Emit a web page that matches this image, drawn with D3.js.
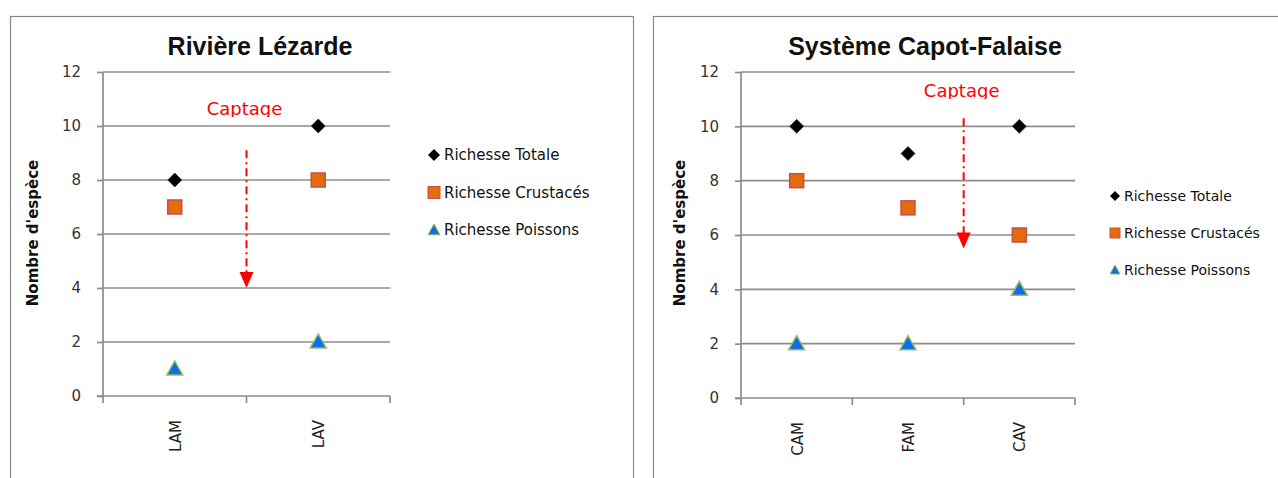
<!DOCTYPE html>
<html>
<head>
<meta charset="utf-8">
<script src="https://cdn.jsdelivr.net/npm/d3@7"></script>
<style>
  html, body { margin: 0; padding: 0; background: #fff; }
  svg { display: block; }
  text { font-family: "DejaVu Sans", Verdana, sans-serif; }
</style>
</head>
<body>
<svg id="chart" width="1278" height="478"></svg>
<script>
// Species richness per station, two river systems
const seriesNames = ["Richesse Totale", "Richesse Crustacés", "Richesse Poissons"];

const lezardeStations = ["LAM", "LAV"];
const lezardeTotale = [8, 10];
const lezardeCrustaces = [7, 8];
const lezardePoissons = [1, 2];

const capotStations = ["CAM", "FAM", "CAV"];
const capotTotale = [10, 9, 10];
const capotCrustaces = [8, 7, 6];
const capotPoissons = [2, 2, 4];

const yTicks = [0, 2, 4, 6, 8, 10, 12];
const yTitle = "Nombre d'espèce";
const annotationLabel = "Captage";

// arrow: from-to values on y, and position in band steps along the category axis
const lezardeArrow = { from: 9.1, to: 4, at: 1.0 };   // between LAM and LAV
const capotArrow = { from: 10.3, to: 5.5, at: 2.0 };  // between FAM and CAV

const svg = d3.select("#chart");
const gridColor = "#8c8c8c";

function drawPanel(cfg) {
  const g = svg.append("g");

  // outer frame
  g.append("rect")
    .attr("x", cfg.frame.x + 0.5).attr("y", cfg.frame.y + 0.5)
    .attr("width", cfg.frame.w).attr("height", cfg.frame.h)
    .attr("fill", "#fff").attr("stroke", "#8a8a8a").attr("stroke-width", 1.2);

  const x = d3.scaleBand().domain(cfg.stations).range([cfg.plot.left, cfg.plot.right]);
  const y = d3.scaleLinear().domain([0, 12]).range([cfg.plot.bottom, cfg.plot.top]);

  // gridlines
  g.append("g").selectAll("line").data(yTicks.filter(d => d > 0)).join("line")
    .attr("x1", cfg.plot.left).attr("x2", cfg.plot.right)
    .attr("y1", d => y(d)).attr("y2", d => y(d))
    .attr("stroke", gridColor).attr("stroke-width", 1.7);

  // y axis
  const yAxis = g.append("g").attr("transform", `translate(${cfg.plot.left},0)`)
    .call(d3.axisLeft(y).tickValues(yTicks).tickSize(6).tickPadding(16).tickFormat(d3.format("d")));
  yAxis.select(".domain").attr("stroke", gridColor).attr("stroke-width", 1.7)
    .attr("d", `M0,${cfg.plot.top}V${cfg.plot.bottom}`);
  yAxis.selectAll(".tick line").attr("stroke", gridColor).attr("stroke-width", 1.7);
  yAxis.selectAll(".tick text").attr("fill", "#333").style("font-size", "15px")
    .style("font-family", "'DejaVu Sans', sans-serif");

  // x axis baseline and ticks at band boundaries
  const bounds = cfg.stations.map(s => x(s)).concat([cfg.plot.right]);
  g.append("line")
    .attr("x1", cfg.plot.left - 6).attr("x2", cfg.plot.right)
    .attr("y1", y(0)).attr("y2", y(0))
    .attr("stroke", gridColor).attr("stroke-width", 1.7);
  g.append("g").selectAll("line").data(bounds).join("line")
    .attr("x1", d => d).attr("x2", d => d)
    .attr("y1", y(0)).attr("y2", y(0) + 7)
    .attr("stroke", gridColor).attr("stroke-width", 1.7);

  // category labels, rotated
  g.append("g").selectAll("text").data(cfg.stations).join("text")
    .attr("transform", d => `translate(${x(d) + x.bandwidth() / 2 + 6},${y(0) + 24}) rotate(-90)`)
    .attr("text-anchor", "end")
    .style("font-size", "15px").attr("fill", "#222")
    .text(d => d);

  // title
  g.append("text")
    .attr("x", cfg.titleX).attr("y", 55)
    .attr("text-anchor", "middle")
    .style("font-family", "'Liberation Sans', Arial, sans-serif")
    .style("font-size", "25px").style("font-weight", "bold").attr("fill", "#111")
    .text(cfg.title);

  // y axis title
  g.append("text")
    .attr("transform", `translate(${cfg.yTitleX},233) rotate(-90)`)
    .attr("text-anchor", "middle")
    .style("font-family", "'DejaVu Sans', sans-serif")
    .style("font-size", "15px").style("font-weight", "bold").attr("fill", "#111")
    .text(yTitle);

  // annotation: label + dash-dot arrow
  const ax = cfg.plot.left + x.step() * cfg.arrow.at;
  const clipId = "clip-" + cfg.id;
  g.append("clipPath").attr("id", clipId).append("rect")
    .attr("x", ax - 70).attr("y", cfg.captageY - 24).attr("width", 140).attr("height", 26);
  g.append("text")
    .attr("x", ax - 2).attr("y", cfg.captageY)
    .attr("text-anchor", "middle")
    .attr("clip-path", `url(#${clipId})`)
    .style("font-size", "18px").attr("fill", "#ff0000")
    .text(annotationLabel);
  const tip = y(cfg.arrow.to);
  g.append("line")
    .attr("x1", ax).attr("x2", ax)
    .attr("y1", y(cfg.arrow.from)).attr("y2", tip - 14)
    .attr("stroke", "#ff0000").attr("stroke-width", 2)
    .attr("stroke-dasharray", "8,4,2,4");
  g.append("path")
    .attr("d", `M${ax - 7},${tip - 16}L${ax + 7},${tip - 16}L${ax},${tip}Z`)
    .attr("fill", "#ff0000");

  // markers
  const series = [cfg.totale, cfg.crustaces, cfg.poissons];
  const cx = i => x(cfg.stations[i]) + x.bandwidth() / 2;

  g.append("g").selectAll("path").data(series[0]).join("path")
    .attr("transform", (d, i) => `translate(${cx(i)},${y(d)})`)
    .attr("d", "M0,-7L7,0L0,7L-7,0Z")
    .attr("fill", "#000").attr("stroke", "#1f3b5a").attr("stroke-width", 0.8);

  g.append("g").selectAll("rect").data(series[1]).join("rect")
    .attr("x", (d, i) => cx(i) - 7).attr("y", d => y(d) - 7)
    .attr("width", 14).attr("height", 14)
    .attr("fill", "#e46c0a").attr("stroke", "#c0504d").attr("stroke-width", 1.5);

  g.append("g").selectAll("path").data(series[2]).join("path")
    .attr("transform", (d, i) => `translate(${cx(i)},${y(d)})`)
    .attr("d", "M0,-8L8,6L-8,6Z")
    .attr("fill", "#0a6fe8").attr("stroke", "#9bbb59").attr("stroke-width", 1.5);

  // legend
  const lg = g.append("g").attr("transform", `translate(${cfg.legend.x},${cfg.legend.y})`);
  const items = lg.selectAll("g").data(seriesNames).join("g")
    .attr("transform", (d, i) => `translate(0,${i * cfg.legend.gap})`);
  items.each(function (d, i) {
    const it = d3.select(this);
    const s = cfg.legend.marker;
    if (i === 0) {
      it.append("path").attr("d", `M0,${-s}L${s},0L0,${s}L${-s},0Z`).attr("fill", "#000");
    } else if (i === 1) {
      it.append("rect").attr("x", -s).attr("y", -s).attr("width", 2 * s).attr("height", 2 * s)
        .attr("fill", "#e46c0a").attr("stroke", "#c0504d").attr("stroke-width", 1);
    } else {
      it.append("path").attr("d", `M0,${-s}L${s},${s * 0.8}L${-s},${s * 0.8}Z`)
        .attr("fill", "#0a6fe8").attr("stroke", "#9bbb59").attr("stroke-width", 1);
    }
    it.append("text").attr("x", s + 4).attr("y", 0).attr("dy", "0.35em")
      .style("font-size", cfg.legend.font + "px").attr("fill", "#111")
      .style("font-family", "'DejaVu Sans', sans-serif")
      .text(d);
  });
}

drawPanel({
  id: "lezarde",
  frame: { x: 10, y: 16, w: 623, h: 480 },
  plot: { left: 103, right: 390, top: 72, bottom: 396 },
  stations: lezardeStations,
  totale: lezardeTotale, crustaces: lezardeCrustaces, poissons: lezardePoissons,
  title: "Rivière Lézarde", titleX: 260, yTitleX: 38,
  captageY: 115, arrow: lezardeArrow,
  legend: { x: 434, y: 155, gap: 37.5, marker: 6, font: 15 }
});

drawPanel({
  id: "capot",
  frame: { x: 653, y: 16, w: 640, h: 480 },
  plot: { left: 741, right: 1075, top: 72, bottom: 398 },
  stations: capotStations,
  totale: capotTotale, crustaces: capotCrustaces, poissons: capotPoissons,
  title: "Système Capot-Falaise", titleX: 925, yTitleX: 685,
  captageY: 97, arrow: capotArrow,
  legend: { x: 1115, y: 196, gap: 37, marker: 5, font: 14 }
});
</script>
</body>
</html>
